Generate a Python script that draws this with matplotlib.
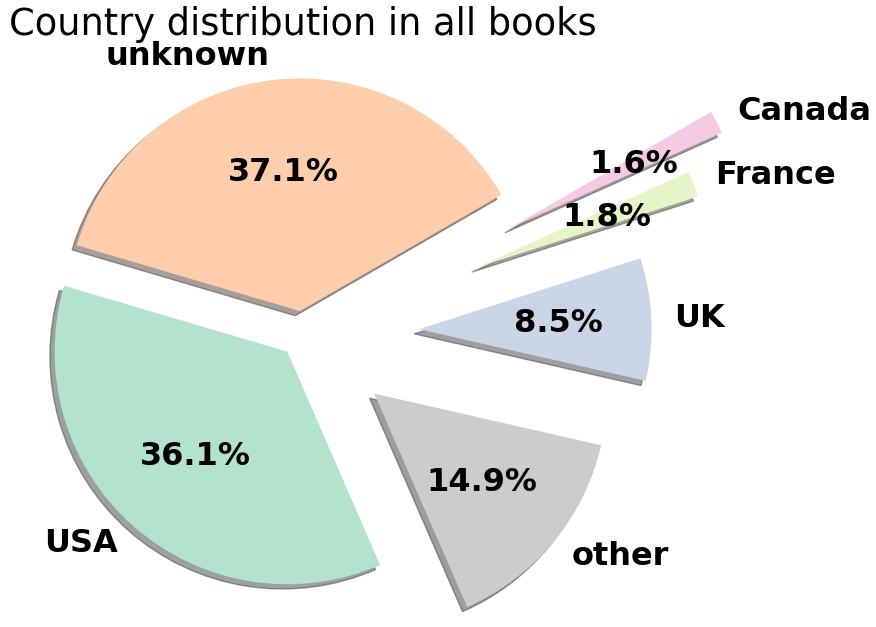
import matplotlib.pyplot as plt

# country shares, in the drawing order (counterclockwise from 30 deg)
countries = ['unknown', 'USA', 'other', 'UK', 'France', 'Canada']
shares = [37.1, 36.1, 14.9, 8.5, 1.8, 1.6]
explode = [0.1, 0.1, 0.4, 0.5, 0.8, 1.0]
colors = ['#fdcdac', '#b3e2cd', '#cccccc', '#cbd5e8', '#e6f5c9', '#f4cae4']

fig = plt.figure(figsize=(8.76, 6.27), dpi=100)
ax = fig.add_axes([0.0135, 0.003, 0.664, 0.928])

wedges, texts, autotexts = ax.pie(shares, labels=countries, explode=explode, colors=colors,
                                  autopct='%1.1f%%', startangle=30,
                                  shadow={'ox': -0.0144, 'oy': -0.0144},
                                  textprops={'fontsize': 23, 'fontweight': 'bold'})
ax.set_title('Country distribution in all books', fontsize=26.5, pad=2)

plt.savefig('out.png', dpi=100)
